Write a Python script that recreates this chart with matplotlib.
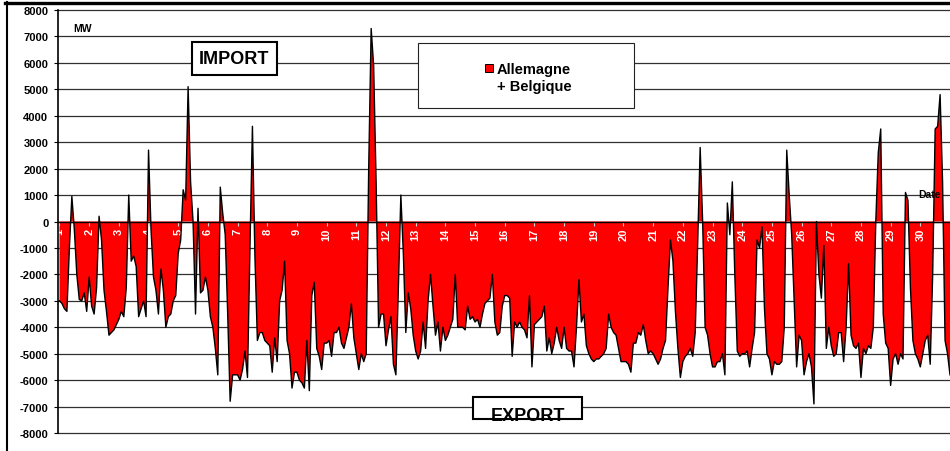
import numpy as np
import matplotlib
matplotlib.use("Agg")
import matplotlib.pyplot as plt
from matplotlib.patches import Rectangle
from matplotlib.lines import Line2D

plt.rcParams['font.family'] = ['Liberation Sans', 'DejaVu Sans']

# exchange balance in MW, read every 2 hours (12 values per day), day 1 00h onwards
week1 = [
    -3000, -3100, -3300, -3400, -1000, 950, -300, -2000, -2950, -3000, -2700, -3400,   # 1
    -2100, -3200, -3500, -2500, 200, -700, -2600, -3400, -4300, -4200, -4100, -3900,   # 2
    -3700, -3400, -3600, -2500, 1000, -1500, -1300, -1700, -3600, -3300, -3000, -3600, # 3
    2700, -300, -2100, -2600, -3500, -1800, -2600, -4000, -3600, -3500, -3000, -2800,  # 4
    -1200, -700, 1200, 800, 5100, 1500, 0, -3500, 500, -2700, -2600, -2100,            # 5
    -2600, -3600, -4000, -4800, -5800, 1300, 300, -500, -3500, -6800, -5800, -5800,    # 6
    -5800, -6000, -5600, -4900, -5900, -1000, 3600, -1300, -4500, -4200, -4200, -4500, # 7
]
week2 = [
    -4600, -4700, -5700, -4400, -5300, -3000, -2600, -1500, -4500, -5000, -6300, -5700, # 8
    -5700, -6000, -6100, -6300, -4500, -6400, -2800, -2300, -4800, -5100, -5600, -4600, # 9
    -4600, -4500, -5100, -4200, -4200, -4000, -4600, -4800, -4400, -4000, -3100, -4400, # 10
    -5000, -5600, -5000, -5300, -5000, 2000, 7300, 5900, 1500, -4000, -3500, -3500,     # 11
    -4700, -4100, -3600, -5400, -5800, -2500, 1000, -1200, -4200, -2700, -3300, -4300,  # 12
    -4900, -5200, -4900, -3800, -4800, -3000, -2000, -3200, -4300, -3800, -4900, -4000, # 13
    -4500, -4300, -4000, -3700, -2000, -4000, -4000, -4000, -4100, -3200, -3700, -3600, # 14
]
week3 = [
    -3800, -3700, -4000, -3500, -3100, -3000, -2900, -2000, -3800, -4300, -4200, -3200, # 15
    -2800, -2800, -2900, -5100, -3800, -4000, -3800, -4000, -4100, -4400, -2800, -5500, # 16
    -3900, -3800, -3700, -3600, -3200, -4900, -4400, -5000, -4600, -4000, -4500, -4800, # 17
    -4000, -4800, -4900, -4900, -5500, -4000, -2200, -3800, -3500, -4700, -5000, -5200, # 18
    -5300, -5200, -5200, -5100, -5000, -4800, -3500, -4000, -4200, -4300, -4800, -5300, # 19
    -5300, -5300, -5400, -5700, -4600, -4600, -4200, -4300, -3900, -4500, -5000, -4900, # 20
    -5000, -5200, -5400, -5200, -4800, -4500, -2500, -700, -1500, -3400, -4800, -5900,  # 21
]
week4 = [
    -5300, -5100, -5000, -4800, -5100, -4200, -800, 2800, 0, -4000, -4300, -5000,       # 22
    -5500, -5500, -5300, -5300, -5000, -5800, 700, -500, 1500, -2000, -4900, -5100,     # 23
    -5000, -5000, -4900, -5500, -4800, -4200, -700, -1000, -200, -3300, -5000, -5200,   # 24
    -5800, -5300, -5400, -5400, -5300, -4000, 2700, 1000, -500, -3000, -5500, -4300,    # 25
    -4500, -5800, -5300, -5000, -5500, -6900, 0, -2000, -2900, -900, -4800, -4000,      # 26
    -4700, -5100, -5000, -4200, -4200, -5300, -4000, -1600, -4300, -4700, -4800, -4600, # 27
    -5900, -4800, -5000, -4700, -4800, -4000, 0, 2600, 3500, -3500, -4600, -4800,       # 28
]
week5 = [
    -6200, -5200, -5000, -5400, -5000, -5200, 1100, 800, -2500, -4500, -5000, -5200,    # 29
    -5500, -5000, -4500, -4300, -5400, -2000, 3500, 3600, 4800, 1500, -4500, -5000,     # 30
    -5800,
]
step_hours = 2

days = list(range(1, 31))
yticks = list(range(-8000, 8001, 1000))

mw = np.array(week1 + week2 + week3 + week4 + week5)
t = 1 + np.arange(len(mw)) * step_hours / 24.0

W, H = 950, 452
fig = plt.figure(figsize=(W / 100, H / 100), dpi=100)


def fx(px):
    return px / W


def fy(py):
    return 1 - py / H


ax = fig.add_axes([fx(58), fy(434), (W - 58) / W, (434 - 11) / H])
ax.set_xlim(0.95, 31.0)
ax.set_ylim(-8000, 8000)

# horizontal gridlines behind the area
for v in yticks:
    ax.axhline(v, color='#303030', lw=0.9, zorder=0.5, clip_on=False)

ax.fill_between(t, 0, mw, facecolor='#ff0000', lw=0, zorder=1)
ax.plot(t, mw, color='black', lw=1.0, zorder=2)

# y axis
ax.set_yticks(yticks)
ax.set_yticklabels([str(v) for v in yticks], fontsize=8, fontweight='bold')
ax.tick_params(axis='y', direction='out', length=3, width=0.8, pad=4)

# x axis along zero line, day labels in white
ax.spines['bottom'].set_position(('data', 0))
ax.spines['bottom'].set_linewidth(1.0)
ax.spines['left'].set_linewidth(1.2)
ax.spines['top'].set_visible(False)
ax.spines['right'].set_visible(False)
ax.set_xticks(days)
ax.set_xticklabels([str(d) for d in days], rotation=90, color='white',
                   fontsize=8, fontweight='bold')
ax.tick_params(axis='x', direction='out', length=3, width=0.8,
               color='#d0d0d0', pad=1.5)

# texts
fig.text(fx(73), fy(32.3), 'MW', fontsize=7.5, fontweight='bold',
         ha='left', va='baseline')
fig.text(fx(918), fy(195.5), 'Date', fontsize=7.5, fontweight='bold',
         ha='left', va='center')

# IMPORT box
fig.add_artist(Rectangle((fx(191.7), fy(75.7)), (277.3 - 191.7) / W, (75.7 - 42.7) / H,
                         transform=fig.transFigure, facecolor='white',
                         edgecolor='black', lw=1.5, zorder=3))
fig.text(fx(234), fy(64.3), 'IMPORT', fontsize=13, fontweight='bold',
         ha='center', va='baseline', zorder=4)

# EXPORT box
fig.add_artist(Rectangle((fx(473.3), fy(420)), (581.7 - 473.3) / W, (420 - 398.3) / H,
                         transform=fig.transFigure, facecolor='white',
                         edgecolor='none', zorder=3))
fig.text(fx(528), fy(421), 'EXPORT', fontsize=13, fontweight='bold',
         ha='center', va='baseline', zorder=4)
fig.add_artist(Rectangle((fx(473.3), fy(420)), (581.7 - 473.3) / W, (420 - 398.3) / H,
                         transform=fig.transFigure, fill=False,
                         edgecolor='black', lw=1.5, zorder=5))

# legend
fig.add_artist(Rectangle((fx(418), fy(109)), (634 - 418) / W, (109 - 44) / H,
                         transform=fig.transFigure, facecolor='white',
                         edgecolor='#222222', lw=0.8, zorder=3))
fig.add_artist(Rectangle((fx(485), fy(73)), 8 / W, 8 / H,
                         transform=fig.transFigure, facecolor='#ff0000',
                         edgecolor='black', lw=0.7, zorder=4))
fig.text(fx(497), fy(74), 'Allemagne', fontsize=10.5, fontweight='bold',
         ha='left', va='baseline', zorder=4)
fig.text(fx(497), fy(91), '+ Belgique', fontsize=10.5, fontweight='bold',
         ha='left', va='baseline', zorder=4)

# outer frame
fig.add_artist(Line2D([fx(5), 1], [fy(3.5), fy(3.5)], transform=fig.transFigure,
                      color='black', lw=2.4))
fig.add_artist(Line2D([fx(6.5), fx(6.5)], [fy(3), 0], transform=fig.transFigure,
                      color='black', lw=1.5))

fig.savefig('out.png', dpi=100)
